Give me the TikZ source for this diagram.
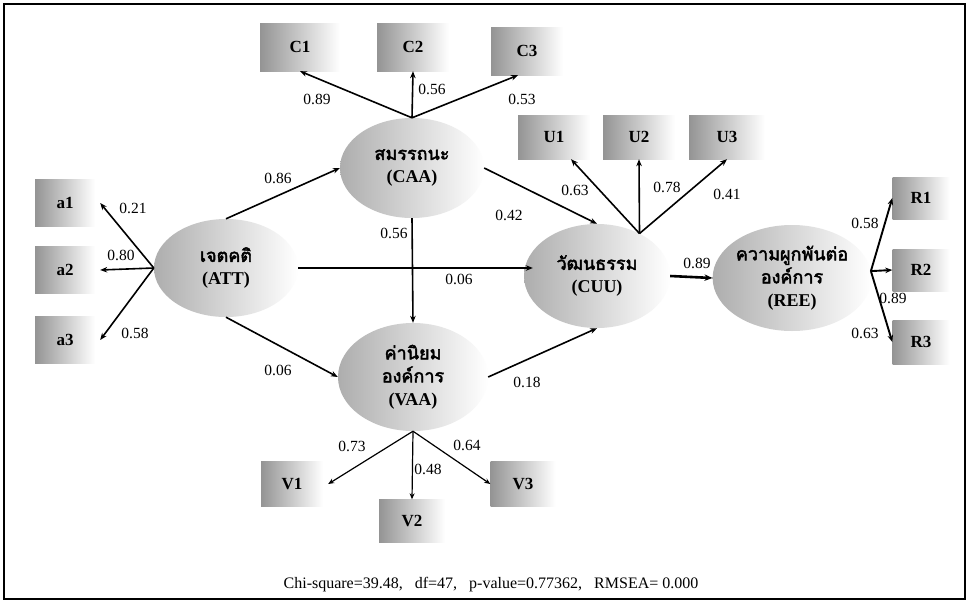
\documentclass[tikz,border=0pt]{standalone}
\usepackage{fontspec}
\setmainfont{Liberation Serif}
\newfontfamily\thai[Script=Thai,AutoFakeBold=2.5]{Loma}
\usetikzlibrary{shapes.geometric,arrows.meta,calc}
\begin{document}
\begin{tikzpicture}[x=1pt,y=-1pt,
  box/.style={rectangle, left color=black!42, right color=white, inner sep=0pt,
    font=\bfseries\fontsize{17}{17}\selectfont},
  lat/.style={ellipse, left color=black!32, right color=white, inner sep=0pt, align=center,
    font=\bfseries\fontsize{18}{23}\selectfont},
  arr/.style={-{Stealth[length=7pt,width=5.5pt]}, line width=1.6pt},
  thinarr/.style={-{Stealth[length=6pt,width=5pt]}, line width=1.2pt},
  lbl/.style={inner sep=0pt, font=\fontsize{15.5}{15.5}\selectfont},
]
\useasboundingbox (0,0) rectangle (969,603);
\fill[white] (0,0) rectangle (969,603);
\draw[line width=1.5pt] (4,4) rectangle (965,599);

% latent variables
\node[lat, minimum width=144pt, minimum height=98pt] (ATT) at (226,268) {{\thai เจตคติ}\\(ATT)};
\node[lat, minimum width=144pt, minimum height=100pt] (CAA) at (412,168) {{\thai สมรรถนะ}\\(CAA)};
\node[lat, minimum width=150pt, minimum height=108pt] (VAA) at (413,377) {{\thai ค่านิยม}\\{\thai องค์การ}\\(VAA)};
\node[lat, minimum width=146pt, minimum height=104pt] (CUU) at (597,276) {{\thai วัฒนธรรม}\\(CUU)};
\node[lat, minimum width=152pt, minimum height=106pt] (REE) at (792,278) {{\thai ความผูกพันต่อ}\\{\thai องค์การ}\\(REE)};

% observed variables
\node[box, minimum width=80pt, minimum height=48pt] (C1) at (300,47) {C1};
\node[box, minimum width=72pt, minimum height=48pt] (C2) at (413,47) {C2};
\node[box, minimum width=72pt, minimum height=48pt] (C3) at (527,51) {C3};
\node[box, minimum width=72pt, minimum height=44pt] (U1) at (554,137) {U1};
\node[box, minimum width=72pt, minimum height=44pt] (U2) at (639,137) {U2};
\node[box, minimum width=76pt, minimum height=44pt] (U3) at (727,137) {U3};
\node[box, minimum width=60pt, minimum height=47pt] (a1) at (65,203) {a1};
\node[box, minimum width=60pt, minimum height=47pt] (a2) at (65,270) {a2};
\node[box, minimum width=60pt, minimum height=47pt] (a3) at (65,340) {a3};
\node[box, minimum width=57pt, minimum height=42pt] (R1) at (921,198) {R1};
\node[box, minimum width=57pt, minimum height=42pt] (R2) at (921,270) {R2};
\node[box, minimum width=57pt, minimum height=44pt] (R3) at (921,342) {R3};
\node[box, minimum width=62pt, minimum height=45pt] (V1) at (292,484) {V1};
\node[box, minimum width=66pt, minimum height=43pt] (V2) at (412,521) {V2};
\node[box, minimum width=65pt, minimum height=45pt] (V3) at (523,484) {V3};

% structural paths
\draw[arr] (ATT.north) -- (CAA.west);
\draw[arr] (ATT.south) -- (VAA.west);
\draw[arr, shorten >=-9pt] (ATT.east) -- (ATT.east -| CUU.west);
\draw[arr] (CAA.east) -- (CUU.north);
\draw[arr] (VAA.east) -- (CUU.south);
\draw[arr] (CAA.south) -- (VAA.north);
\draw[-{Stealth[length=8pt,width=6.5pt]}, line width=2.6pt] (CUU.east) -- (REE.west);

% measurement paths
\draw[arr] (ATT.west) -- ($(a1.east)+(5,0)$);
\draw[arr] (ATT.west) -- ($(a2.east)+(5,0)$);
\draw[arr] (ATT.west) -- ($(a3.east)+(5,0)$);
\draw[arr] (CAA.north) -- (C1.south);
\draw[arr] (CAA.north) -- (C2.south);
\draw[arr] (CAA.north) -- ($(C3.south)+(-9,0)$);
\draw[arr] (CUU.45) -- ($(U1.south)+(17,0)$);
\draw[arr] (CUU.45) -- (U2.south);
\draw[arr] (CUU.45) -- (U3.south);
\draw[arr, line width=1.9pt] (REE.5) -- (R1.west);
\draw[arr, line width=1.9pt] (REE.5) -- (R2.west);
\draw[arr, line width=1.9pt] (REE.5) -- (R3.west);
\draw[thinarr] (VAA.south) -- ($(V1.east)+(5,0)$);
\draw[thinarr] (VAA.south) -- (V2.north);
\draw[thinarr] (VAA.south) -- (V3.west);

% coefficients
\node[lbl] (l1) at (278,178) {0.86};
\node[lbl] (l2) at (509,215) {0.42};
\node[lbl] (l3) at (394,233) {0.56};
\node[lbl] (l4) at (459,279) {0.06};
\node[lbl] (l5) at (278,370) {0.06};
\node[lbl] (l6) at (527,382) {0.18};
\node[lbl] (l7) at (697,263) {0.89};
\node[lbl] (l8) at (133,208) {0.21};
\node[lbl] (l9) at (121,255) {0.80};
\node[lbl] (l10) at (135,333) {0.58};
\node[lbl] (l11) at (317,99) {0.89};
\node[lbl] (l12) at (432,89) {0.56};
\node[lbl] (l13) at (522,99) {0.53};
\node[lbl] (l14) at (575,190) {0.63};
\node[lbl] (l15) at (667,187) {0.78};
\node[lbl] (l16) at (727,194) {0.41};
\node[lbl] (l17) at (865,223) {0.58};
\node[lbl] (l18) at (893,298) {0.89};
\node[lbl] (l19) at (865,333) {0.63};
\node[lbl] (l20) at (352,446) {0.73};
\node[lbl] (l21) at (428,469) {0.48};
\node[lbl] (l22) at (467,445) {0.64};

\node[lbl, font=\fontsize{16}{16}\selectfont] (fit) at (491,585) {Chi-square=39.48,\ \ \ df=47,\ \ \ p-value=0.77362,\ \ \ RMSEA=\ 0.000};
\end{tikzpicture}
\end{document}
